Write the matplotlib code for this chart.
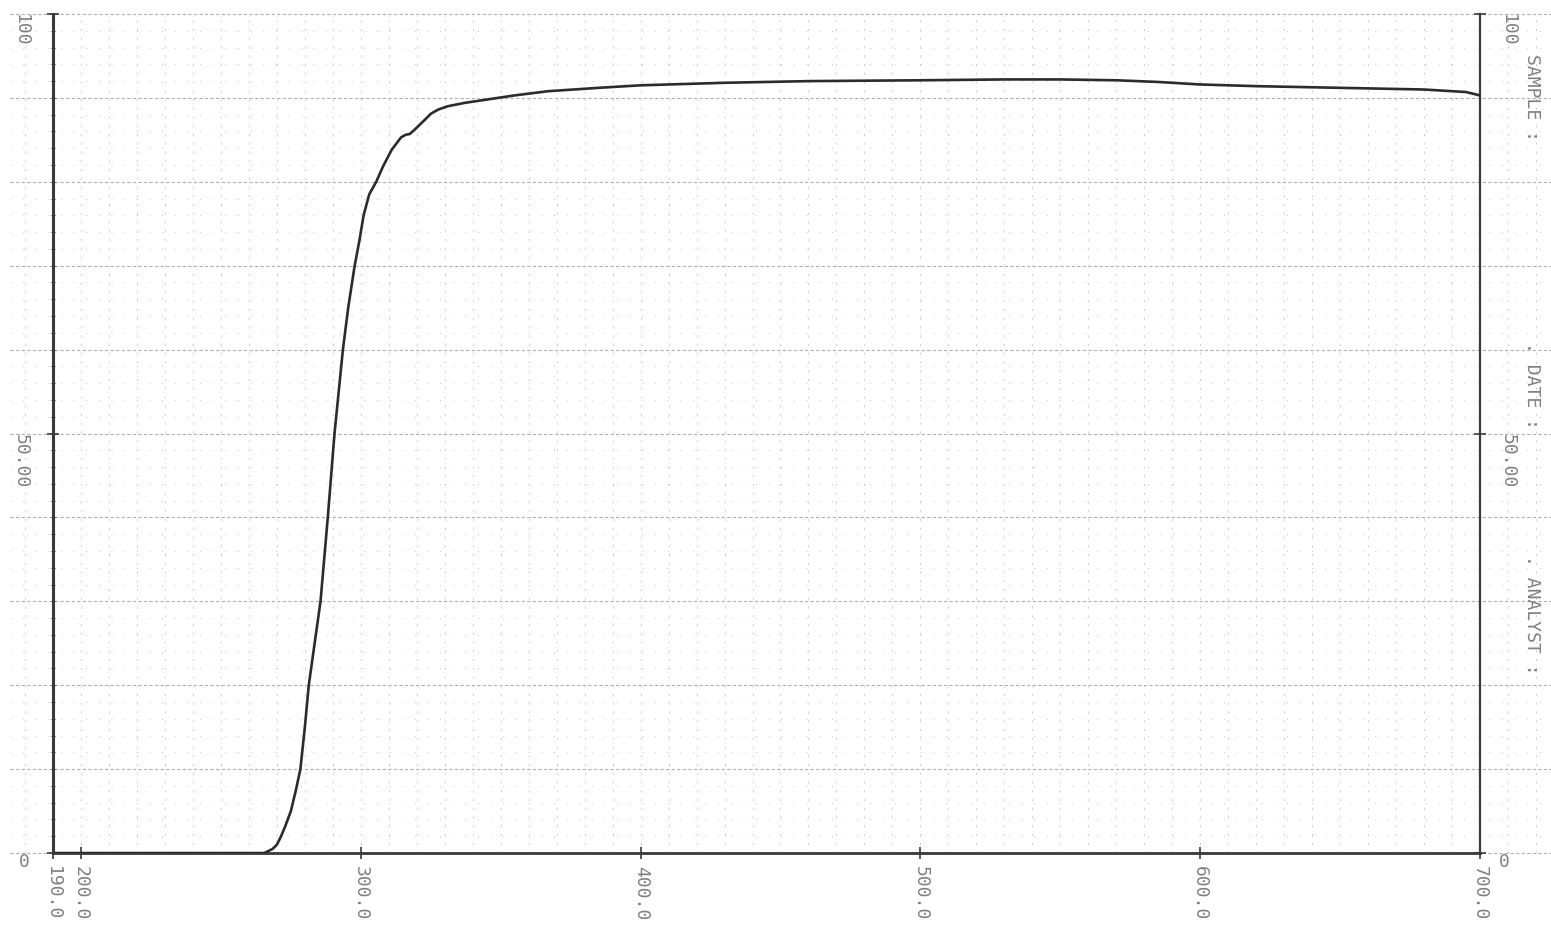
import matplotlib.pyplot as plt
import numpy as np

wellenlaenge = [190, 200, 220, 240, 260, 265.5, 268.5, 270, 271.5, 273, 275, 276.8,
                278.4, 280, 281.4, 283.5, 285.6, 288.2, 290.6, 293.6, 295.5, 297.8,
                299.5, 301, 303, 305.5, 307.9, 311, 314.4, 316, 317.5, 319.5, 322.9,
                325, 327.6, 331, 337, 343, 355, 367, 385, 400, 430, 460, 500, 530,
                550, 570, 585, 595, 600, 620, 650, 680, 695, 700]
transmission = [0, 0, 0, 0, 0, 0, 0.5, 1, 2, 3.2, 5, 7.5,
                10, 15, 20, 25, 30, 40, 50, 60, 65, 70,
                73, 76, 78.5, 80, 81.8, 83.8, 85.3, 85.6, 85.7, 86.3, 87.4,
                88.1, 88.6, 89.0, 89.4, 89.7, 90.3, 90.8, 91.2, 91.5, 91.8, 92.0, 92.1, 92.2,
                92.2, 92.1, 91.9, 91.7, 91.6, 91.4, 91.2, 91.0, 90.7, 90.3]

x_ticks = [190, 200, 300, 400, 500, 600, 700]
x_labels = ['190.0', '200.0', '300.0', '400.0', '500.0', '600.0', '700.0']
y_ticks = [0, 50, 100]
y_labels = ['0', '50.00', '100']
kopf = ['SAMPLE :', '. DATE :', '. ANALYST :']

grau = '#808080'
schrift = 'DejaVu Sans Mono'

fig = plt.figure(figsize=(15.51, 9.33), dpi=100)
ax = fig.add_axes([0.0342, 0.0857, 0.92, 0.8993])
ax.set_xlim(190, 700)
ax.set_ylim(0, 100)

# Gitter: waagerecht alle 10 % gestrichelt, alle 2 % gepunktet
for y in np.arange(0, 101, 10):
    ax.axhline(y, xmin=-0.03, xmax=1.05, color='#b0b0b0', lw=0.8,
               ls=(0, (3, 2)), clip_on=False, zorder=1)
for y in np.arange(0, 101, 2):
    if y % 10:
        ax.axhline(y, xmin=-0.03, xmax=1.05, color='#c8c8c8', lw=0.7,
                   ls=(0, (1, 12)), clip_on=False, zorder=1)
# senkrecht alle 10 nm
for x in np.arange(180, 721, 10):
    ax.axvline(x, color='#cccccc', lw=0.7, ls=(0, (2, 7)), clip_on=False, zorder=1)

# Messkurve
ax.plot(wellenlaenge, transmission, color='#2b2b2b', lw=1.9, zorder=3,
        solid_joinstyle='round')

# Achsen
ax.spines['top'].set_visible(False)
ax.spines['left'].set_linewidth(2.2)
ax.spines['bottom'].set_linewidth(2.0)
ax.spines['right'].set_linewidth(1.6)
for s in ['left', 'bottom', 'right']:
    ax.spines[s].set_color('#3a3a3a')

ax.set_xticks(x_ticks, x_labels)
ax.set_yticks(y_ticks, y_labels)
ax.set_yticks(np.arange(0, 101, 2), minor=True)
ax.tick_params(axis='x', direction='inout', length=9, width=1.2, color='#3a3a3a',
               pad=5, labelsize=13, labelcolor=grau, labelrotation=-90)
ax.tick_params(axis='y', which='major', direction='inout', length=9, width=1.2,
               color='#3a3a3a', pad=12, labelsize=13, labelcolor=grau, labelrotation=-90)
ax.tick_params(axis='y', which='minor', direction='inout', length=3, width=0.8,
               color='#3a3a3a')
for lab in ax.get_xticklabels() + ax.get_yticklabels():
    lab.set_fontfamily(schrift)
for lab in ax.get_yticklabels():
    lab.set_verticalalignment('top')
ax.get_yticklabels()[0].set_rotation(0)

# rechte Skala
ax2 = ax.twinx()
ax2.set_ylim(0, 100)
for s in ['top', 'left', 'bottom', 'right']:
    ax2.spines[s].set_visible(False)
ax2.set_yticks(y_ticks, y_labels)
ax2.tick_params(axis='y', direction='inout', length=9, width=1.2, color='#3a3a3a',
                pad=9, labelsize=13, labelcolor=grau, labelrotation=-90)
for lab in ax2.get_yticklabels():
    lab.set_fontfamily(schrift)
    lab.set_verticalalignment('top')
    lab.set_horizontalalignment('left')
ax2.get_yticklabels()[0].set_rotation(0)

# Kopfzeilen am rechten Rand
for txt, yy in zip(kopf, [0.895, 0.587, 0.341]):
    fig.text(0.988, yy, txt, rotation=-90, ha='center', va='center',
             fontsize=13, color=grau, family=schrift)

fig.savefig('out.png', dpi=100)
